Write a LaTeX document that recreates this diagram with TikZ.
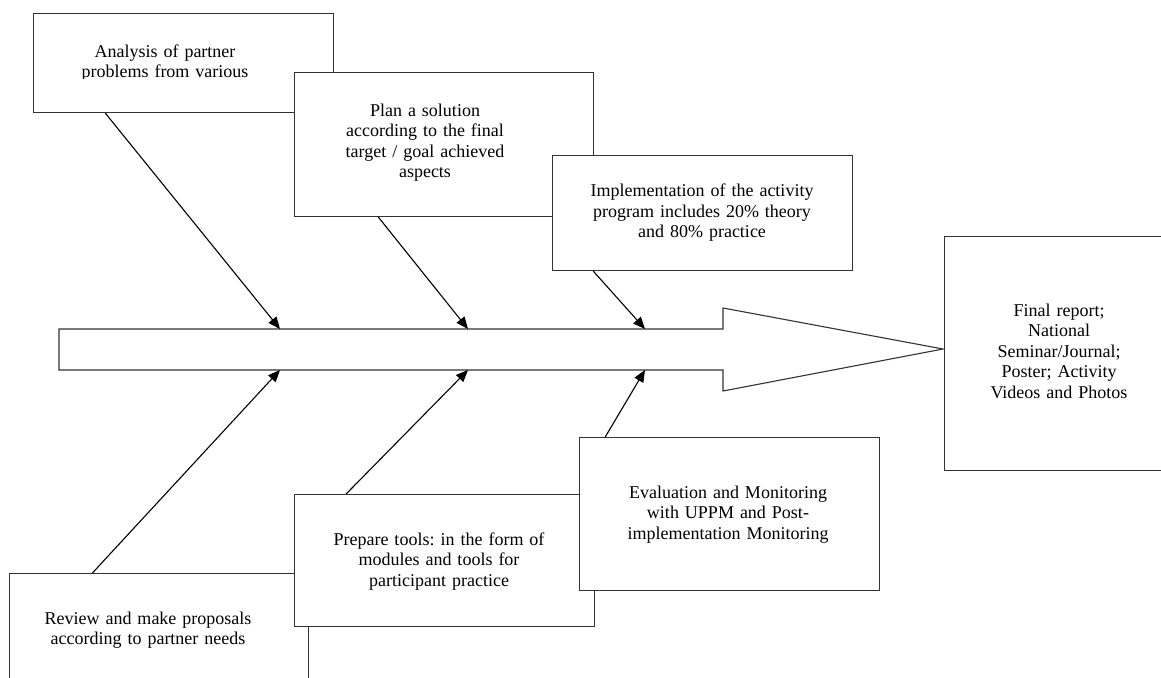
\documentclass[tikz,border=0pt]{standalone}
\usepackage{fontspec}
\setmainfont{Liberation Serif}
\usetikzlibrary{arrows.meta,calc}
\frenchspacing
\begin{document}
\begin{tikzpicture}[x=1pt,y=-1pt,
  box/.style={draw=black!80, line width=1.1pt, fill=white, rectangle, inner sep=0pt, anchor=north west},
  txt/.style={font=\fontsize{18}{20.5}\selectfont\frenchspacing, text width=300pt, align=center, anchor=base, inner sep=0pt},
  conn/.style={draw=black, line width=1.1pt, -{Triangle[length=12pt,width=10pt]}},
  bigarrow/.style={draw=black!80, line width=1.1pt, fill=white, line join=miter}]
\useasboundingbox (0,0) rectangle (1161,677);
\clip (0,0) rectangle (1161,677);
\fill[white] (0,0) rectangle (1161,677);

% upper boxes
\node[box, minimum width=300pt, minimum height=99pt] (A) at (33,13) {};
\begin{scope}
  \clip (33,13) rectangle (333,78.5);
  \node[txt] (Atext) at (165,57) {Analysis of partner\\problems from various};
\end{scope}
\node[box, minimum width=299pt, minimum height=144pt] (B) at (294,72) {};
\node[txt] (Btext) at (425,116) {Plan a solution\\according to the final\\target / goal achieved\\aspects};
\node[box, minimum width=300pt, minimum height=115pt] (C) at (552,155) {};
\node[txt] (Ctext) at (702,196.5) {Implementation of the activity\\program includes 20\% theory\\and 80\% practice};

% lower boxes
\node[box, minimum width=299pt, minimum height=130pt] (G) at (9,573) {};
\node[txt] (Gtext) at (148,624) {Review and make proposals\\according to partner needs};
\node[box, minimum width=300pt, minimum height=132pt] (D) at (294,494) {};
\node[txt] (Dtext) at (439,545) {Prepare tools: in the form of\\modules and tools for\\participant practice};
\node[box, minimum width=300pt, minimum height=153pt] (E) at (579,437) {};
\node[txt] (Etext) at (728,498) {Evaluation and Monitoring\\with UPPM and Post-\\implementation Monitoring};

% final box
\node[box, minimum width=231pt, minimum height=234pt] (F) at (944,236) {};
\node[txt] (Ftext) at (1059,316) {Final report;\\National\\Seminar/Journal;\\Poster; Activity\\Videos and Photos};

% spine arrow
\draw[bigarrow] (59,329) -- (723,329) -- (723,308) -- (943,349) -- (723,391) -- (723,370) -- (59,370) -- cycle;
\coordinate (t1) at (280,329);
\coordinate (t2) at (468,329);
\coordinate (t3) at (645,329);
\coordinate (b1) at (280,370);
\coordinate (b2) at (468,370);
\coordinate (b3) at (645,370);

% connectors
\draw[conn] ($(A.south west)!0.24!(A.south east)$) -- (t1);
\draw[conn] ($(B.south west)!0.281!(B.south east)$) -- (t2);
\draw[conn] ($(C.south west)!0.137!(C.south east)$) -- (t3);
\draw[conn] ($(G.north west)!0.278!(G.north east)$) -- (b1);
\draw[conn] ($(D.north west)!0.173!(D.north east)$) -- (b2);
\draw[conn] ($(E.north west)!0.087!(E.north east)$) -- (b3);
\end{tikzpicture}
\end{document}
